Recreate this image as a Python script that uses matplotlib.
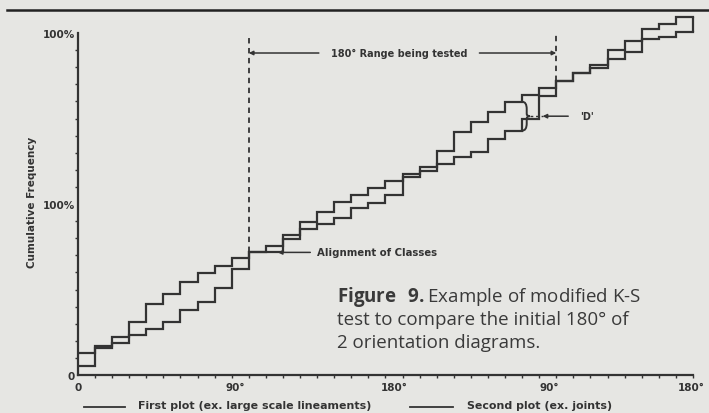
import matplotlib
matplotlib.use('Agg')
import matplotlib.pyplot as plt
import numpy as np
from matplotlib.path import Path
from matplotlib.patches import PathPatch
from matplotlib.lines import Line2D

plt.rcParams['mathtext.fontset'] = 'custom'
plt.rcParams['mathtext.rm'] = 'Open Sans'
plt.rcParams['mathtext.bf'] = 'Open Sans:bold'

# class edges every 10 deg over two 180 deg cycles
class_edges = np.arange(0, 370, 10)

# cumulative frequency (%) per 10 deg class
first_plot = [13, 17, 22, 30.8, 41.5, 47.4, 54.6, 59.6, 63.5, 68.2,
              71.7, 75.2, 81.7, 89.2, 95.5, 101.4, 105, 109.2, 113.6, 117.8,
              121.8, 130.8, 141.9, 147.8, 154, 159.8, 164, 168, 172.1, 176.4,
              181.3, 190.1, 195.1, 202.3, 205.3, 209.2]
second_plot = [5, 15.6, 19, 23.4, 26.9, 30.8, 37.8, 42.9, 50.7, 62,
               71.7, 71.7, 79.5, 85.4, 88.3, 91.6, 97.5, 100.5, 105.3, 116,
               119.1, 123.4, 127.3, 130.2, 138, 142.9, 150, 163, 172.1, 176.4,
               179.5, 184.8, 188.7, 196.5, 197.5, 200.4]

range_start = 100   # start of the 180 deg range being tested
range_end = 280
d_class = 25        # class holding the max difference 'D'

xtick_pos = [0, 92, 185, 276, 359]
xtick_labels = ['0', '90°', '180°', '90°', '180°']
ytick_pos = [0, 100, 200]
ytick_labels = ['0', '100%', '100%']

ink = '#333333'
paper = '#e6e6e3'

fig = plt.figure(figsize=(7.09, 4.14), dpi=100, facecolor=paper)
ax = fig.add_axes([78 / 709, 38 / 414, 632 / 709, 215 * 1.71 / 414])
ax.set_facecolor('none')
ax.set_xlim(0, 370)
ax.set_ylim(0, 215)

for s in ['top', 'right']:
    ax.spines[s].set_visible(False)
ax.spines['left'].set_bounds(0, 200)
ax.spines['bottom'].set_bounds(0, 360)
for s in ['left', 'bottom']:
    ax.spines[s].set_color(ink)
    ax.spines[s].set_linewidth(1.6)

# step curves
for vals in [first_plot, second_plot]:
    ax.step(class_edges, np.append(vals, vals[-1]), where='post',
            color=ink, lw=1.6, solid_joinstyle='miter')
ax.vlines(class_edges[-1], second_plot[-1], first_plot[-1], color=ink, lw=1.6)

# ticks
lbl_font = dict(family='DejaVu Sans', weight='bold', size=7, color=ink)
ax.set_xticks(xtick_pos, xtick_labels)
ax.set_xticks(class_edges, minor=True)
ax.set_yticks(ytick_pos, ytick_labels)
ax.set_yticks(np.arange(0, 210, 10), minor=True)
ax.tick_params(which='major', length=0, pad=5, colors=ink)
ax.tick_params(axis='y', which='major', pad=2)
ax.tick_params(which='minor', length=2.5, width=1, direction='out', color=ink)
for t in ax.get_xticklabels() + ax.get_yticklabels():
    t.set_fontproperties(matplotlib.font_manager.FontProperties(family='DejaVu Sans', weight='bold', size=7.5))
    t.set_color(ink)

# dashed lines bounding tested range
ax.plot([range_start, range_start], [first_plot[range_start // 10], 199],
        color=ink, lw=1.3, ls=(0, (3, 2.5)))
ax.plot([range_end, range_end], [first_plot[range_end // 10], 199.5],
        color=ink, lw=1.3, ls=(0, (3, 2.5)))

# range annotation
ax.text(188, 188.3, '180° Range being tested', ha='center', va='center', **lbl_font)
arr = dict(arrowstyle='-|>', lw=1.1, color=ink, mutation_scale=6, shrinkA=0, shrinkB=0)
ax.annotate('', xy=(range_start, 188.3), xytext=(141, 188.3), arrowprops=arr)
ax.annotate('', xy=(range_end, 188.3), xytext=(235, 188.3), arrowprops=arr)

# alignment of classes
ax.annotate('', xy=(117, first_plot[10]), xytext=(136, first_plot[10]), arrowprops=arr)
ax.text(140, first_plot[10], 'Alignment of Classes', ha='left', va='center',
        family='DejaVu Sans', weight='bold', size=7.3, color=ink)

# 'D' brace
bx = class_edges[d_class + 1]
y0, y1 = second_plot[d_class], first_plot[d_class]
ym = (y0 + y1) / 2
w = 4.5
h = y1 - y0
verts = [(bx, y1), (bx + 0.6 * w, y1), (bx + 0.6 * w, y1 - 0.25 * h),
         (bx + 0.6 * w, ym + 0.08 * h),
         (bx + 0.6 * w, ym), (bx + w, ym),
         (bx + 0.6 * w, ym), (bx + 0.6 * w, ym - 0.08 * h),
         (bx + 0.6 * w, y0 + 0.25 * h),
         (bx + 0.6 * w, y0), (bx, y0)]
codes = [Path.MOVETO, Path.CURVE3, Path.CURVE3, Path.LINETO,
         Path.CURVE3, Path.CURVE3, Path.CURVE3, Path.CURVE3,
         Path.LINETO, Path.CURVE3, Path.CURVE3]
ax.add_patch(PathPatch(Path(verts, codes), fill=False, ec=ink, lw=1.4))
ax.plot([bx + w, bx + 12], [ym, ym], color=ink, lw=1.0, ls=(0, (2, 2)))
ax.annotate('', xy=(bx + 12, ym), xytext=(bx + 27, ym), arrowprops=arr)
ax.text(bx + 38, ym, "'D'", ha='center', va='center', **lbl_font)

# y label
fig.text(32 / 709, 1 - 202 / 414, 'Cumulative Frequency', rotation=90,
         ha='center', va='center', family='DejaVu Sans', weight='bold', size=7.5, color=ink)

# legend
leg_y = 1 - 409 / 414
fig.add_artist(Line2D([84 / 709, 125 / 709], [leg_y + 0.003, leg_y + 0.003], lw=1.3, color=ink))
fig.text(138 / 709, leg_y, 'First plot (ex. large scale lineaments)', ha='left', va='baseline',
         family='DejaVu Sans', weight='bold', size=7.9, color=ink)
fig.add_artist(Line2D([410 / 709, 453 / 709], [leg_y + 0.003, leg_y + 0.003], lw=1.3, color=ink))
fig.text(467 / 709, leg_y, 'Second plot (ex. joints)', ha='left', va='baseline',
         family='DejaVu Sans', weight='bold', size=7.9, color=ink)

# caption
cap = dict(ha='left', va='baseline', family='Open Sans', size=13.5, color='#3a3a3a')
fig.text(337 / 709, 1 - 302.3 / 414, r'$\mathbf{Figure\ \ 9.}$Example of modified K-S', **cap)
fig.text(337 / 709, 1 - 325 / 414, 'test to compare the initial 180° of', **cap)
fig.text(337 / 709, 1 - 347.7 / 414, '2 orientation diagrams.', **cap)

# page rule at top
fig.add_artist(Line2D([0.01, 1.0], [1 - 11 / 414, 1 - 11 / 414], lw=1.8, color='#222222'))

fig.savefig('out.png', dpi=100, facecolor=paper)
